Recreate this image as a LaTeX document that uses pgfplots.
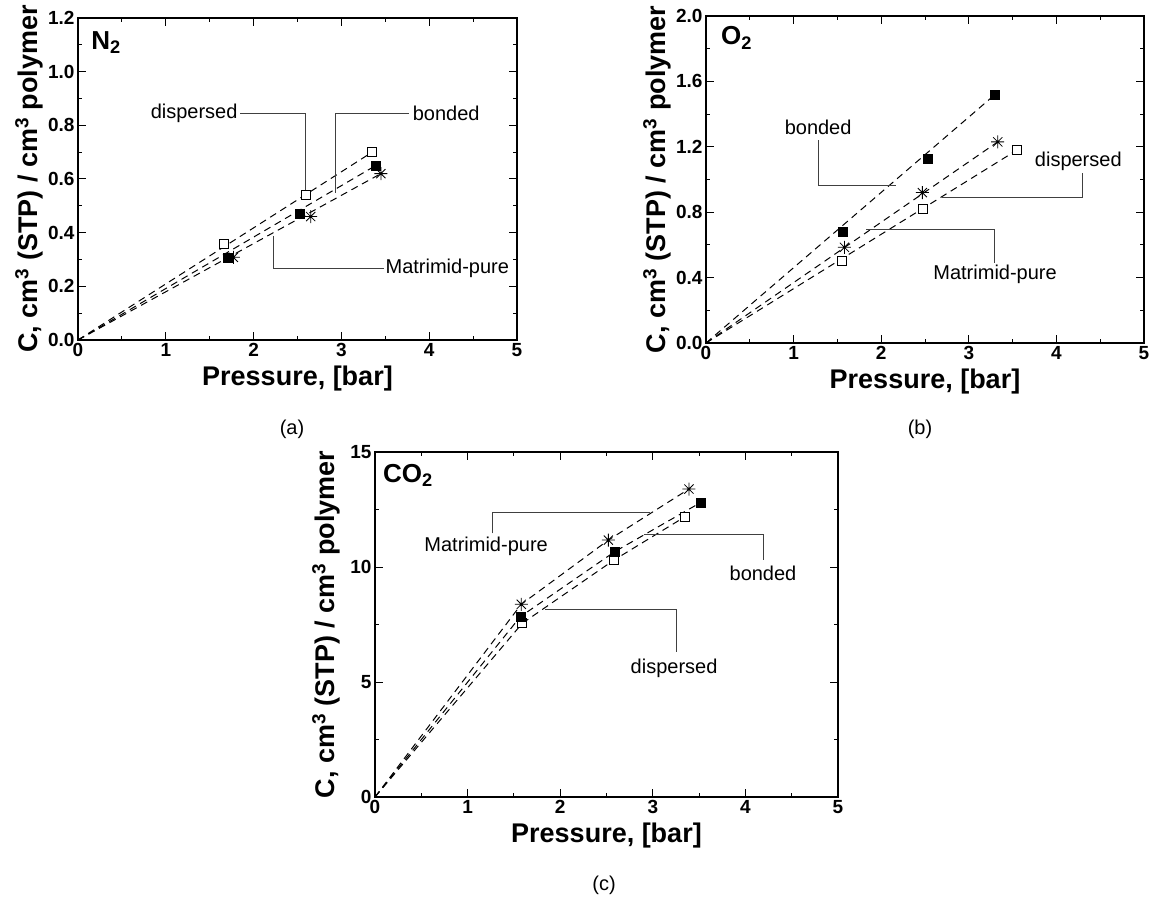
\documentclass[border=0pt]{standalone}
\usepackage{fontspec}
\setmainfont{Liberation Sans}
\usepackage{pgfplots}
\pgfplotsset{compat=1.18}

\pgfdeclareplotmark{star8}{%
 \pgfpathmoveto{\pgfqpoint{0pt}{\pgfplotmarksize}}\pgfpathlineto{\pgfqpoint{0pt}{-\pgfplotmarksize}}%
 \pgfpathmoveto{\pgfqpoint{\pgfplotmarksize}{0pt}}\pgfpathlineto{\pgfqpoint{-\pgfplotmarksize}{0pt}}%
 \pgfpathmoveto{\pgfqpointpolar{45}{\pgfplotmarksize}}\pgfpathlineto{\pgfqpointpolar{225}{\pgfplotmarksize}}%
 \pgfpathmoveto{\pgfqpointpolar{135}{\pgfplotmarksize}}\pgfpathlineto{\pgfqpointpolar{315}{\pgfplotmarksize}}%
 \pgfusepathqstroke}

\pgfplotsset{
 panel/.style={
  scale only axis, clip=false,
  xmin=0, xmax=5, xtick={0,1,2,3,4,5}, minor x tick num=1, minor y tick num=1,
  tick align=inside, major tick length=8pt, minor tick length=4pt,
  axis line style={line width=1.3pt},
  every tick/.style={line width=1pt, black},
  /pgf/number format/assume math mode=true,
  ticklabel style={font=\bfseries\fontsize{19}{19}\selectfont},
  label style={font=\bfseries\fontsize{27}{30}\selectfont},
  xlabel={Pressure, [bar]},
  ylabel={C, cm\textsuperscript{3} (STP) / cm\textsuperscript{3} polymer},
  xlabel style={at={([yshift=-39pt]axis description cs:0.5,0)}, anchor=center},
  ylabel style={at={([xshift=-49pt]axis description cs:0,0.5)}, anchor=center},
 },
 fit/.style={black, line width=1pt, dash pattern=on 7pt off 5pt, no marks},
 opensq/.style={only marks, mark=square*, mark size=4.5pt, mark options={solid, fill=white, draw=black, line width=0.8pt}},
 fillsq/.style={only marks, mark=square*, mark size=4.5pt, mark options={solid, fill=black, draw=black}},
 starm/.style={only marks, mark=star8, mark size=6.5pt, mark options={solid, line width=0.8pt, draw=black}},
}
\tikzset{
 annot/.style={draw=black!75, line width=0.9pt},
 atext/.style={font=\fontsize{20}{24}\selectfont, inner sep=1pt},
 gas/.style={font=\bfseries\fontsize{26}{30}\selectfont, anchor=west, inner sep=0pt},
}

\begin{document}
\begin{tikzpicture}
\path[use as bounding box] (0pt,0pt) rectangle (1154pt,903pt);

% ---------- (a) N2 ----------
\begin{axis}[panel, at={(78pt,563pt)}, anchor=south west, width=439pt, height=322pt,
  ymin=0, ymax=1.2, ytick={0,0.2,0.4,0.6,0.8,1.0,1.2},
  yticklabel style={/pgf/number format/.cd, fixed, fixed zerofill, precision=1}]
\addplot[fit] coordinates {(0,0) (3.35,0.70)};
\addplot[fit] coordinates {(0,0) (3.39,0.65)};
\addplot[fit] coordinates {(0,0) (3.45,0.62)};
\addplot[opensq] coordinates {(1.66,0.358) (2.59,0.54) (3.35,0.70)};
\addplot[fillsq] coordinates {(1.70,0.308) (2.52,0.47) (3.39,0.65)};
\addplot[starm] coordinates {(1.77,0.308) (2.65,0.46) (3.45,0.62)};
\draw[annot] (axis cs:1.85,0.846) -| (axis cs:2.59,0.557);
\node[atext, anchor=east] at (axis cs:1.83,0.846) {dispersed};
\draw[annot] (axis cs:2.93,0.548) |- (axis cs:3.77,0.846);
\node[atext, anchor=west] at (axis cs:3.80,0.846) {bonded};
\draw[annot] (axis cs:2.23,0.388) |- (axis cs:3.48,0.268);
\node[atext, anchor=west] at (axis cs:3.49,0.268) {Matrimid-pure};
\node[gas] at (axis cs:0.15,1.107) {N\textsubscript{2}};
\end{axis}
\node[font=\fontsize{20}{24}\selectfont] at (292pt,474pt) {(a)};

% ---------- (b) O2 ----------
\begin{axis}[panel, at={(706pt,560pt)}, anchor=south west, width=438pt, height=327pt,
  ymin=0, ymax=2.0, ytick={0,0.4,0.8,1.2,1.6,2.0},
  yticklabel style={/pgf/number format/.cd, fixed, fixed zerofill, precision=1}]
\addplot[fit] coordinates {(0,0) (3.30,1.52)};
\addplot[fit] coordinates {(0,0) (3.33,1.23)};
\addplot[fit] coordinates {(0,0) (3.55,1.18)};
\addplot[opensq] coordinates {(1.55,0.50) (2.48,0.82) (3.55,1.18)};
\addplot[fillsq] coordinates {(1.56,0.68) (2.53,1.13) (3.30,1.52)};
\addplot[starm] coordinates {(1.58,0.585) (2.47,0.92) (3.33,1.23)};
\draw[annot] (axis cs:1.28,1.24) |- (axis cs:2.17,0.966);
\node[atext] at (axis cs:1.28,1.32) {bonded};
\draw[annot] (axis cs:2.69,0.889) -| (axis cs:4.30,1.04);
\node[atext] at (axis cs:4.25,1.11) {dispersed};
\draw[annot] (axis cs:1.83,0.695) -| (axis cs:3.29,0.49);
\node[atext] at (axis cs:3.30,0.42) {Matrimid-pure};
\node[gas] at (axis cs:0.17,1.866) {O\textsubscript{2}};
\end{axis}
\node[font=\fontsize{20}{24}\selectfont] at (920pt,474pt) {(b)};

% ---------- (c) CO2 ----------
\begin{axis}[panel, at={(375pt,106pt)}, anchor=south west, width=463pt, height=345pt,
  ymin=0, ymax=15, ytick={0,5,10,15}]
\addplot[fit] coordinates {(0,0) (1.58,8.38) (2.52,11.17) (3.39,13.39)};
\addplot[fit] coordinates {(0,0) (1.57,7.84) (2.59,10.67) (3.52,12.81)};
\addplot[fit] coordinates {(0,0) (1.59,7.55) (2.58,10.30) (3.35,12.19)};
\addplot[opensq] coordinates {(1.59,7.55) (2.58,10.30) (3.35,12.19)};
\addplot[fillsq] coordinates {(1.57,7.84) (2.59,10.67) (3.52,12.81)};
\addplot[starm] coordinates {(1.58,8.38) (2.52,11.17) (3.39,13.39)};
\draw[annot] (axis cs:1.27,11.46) |- (axis cs:2.97,12.38);
\node[atext] at (axis cs:1.20,10.88) {Matrimid-pure};
\draw[annot] (axis cs:2.90,11.42) -| (axis cs:4.19,10.3);
\node[atext] at (axis cs:4.19,9.74) {bonded};
\draw[annot] (axis cs:1.84,8.17) -| (axis cs:3.26,6.32);
\node[atext] at (axis cs:3.23,5.6) {dispersed};
\node[gas] at (axis cs:0.086,14.0) {CO\textsubscript{2}};
\end{axis}
\node[font=\fontsize{20}{24}\selectfont] at (604pt,18pt) {(c)};
\end{tikzpicture}
\end{document}
